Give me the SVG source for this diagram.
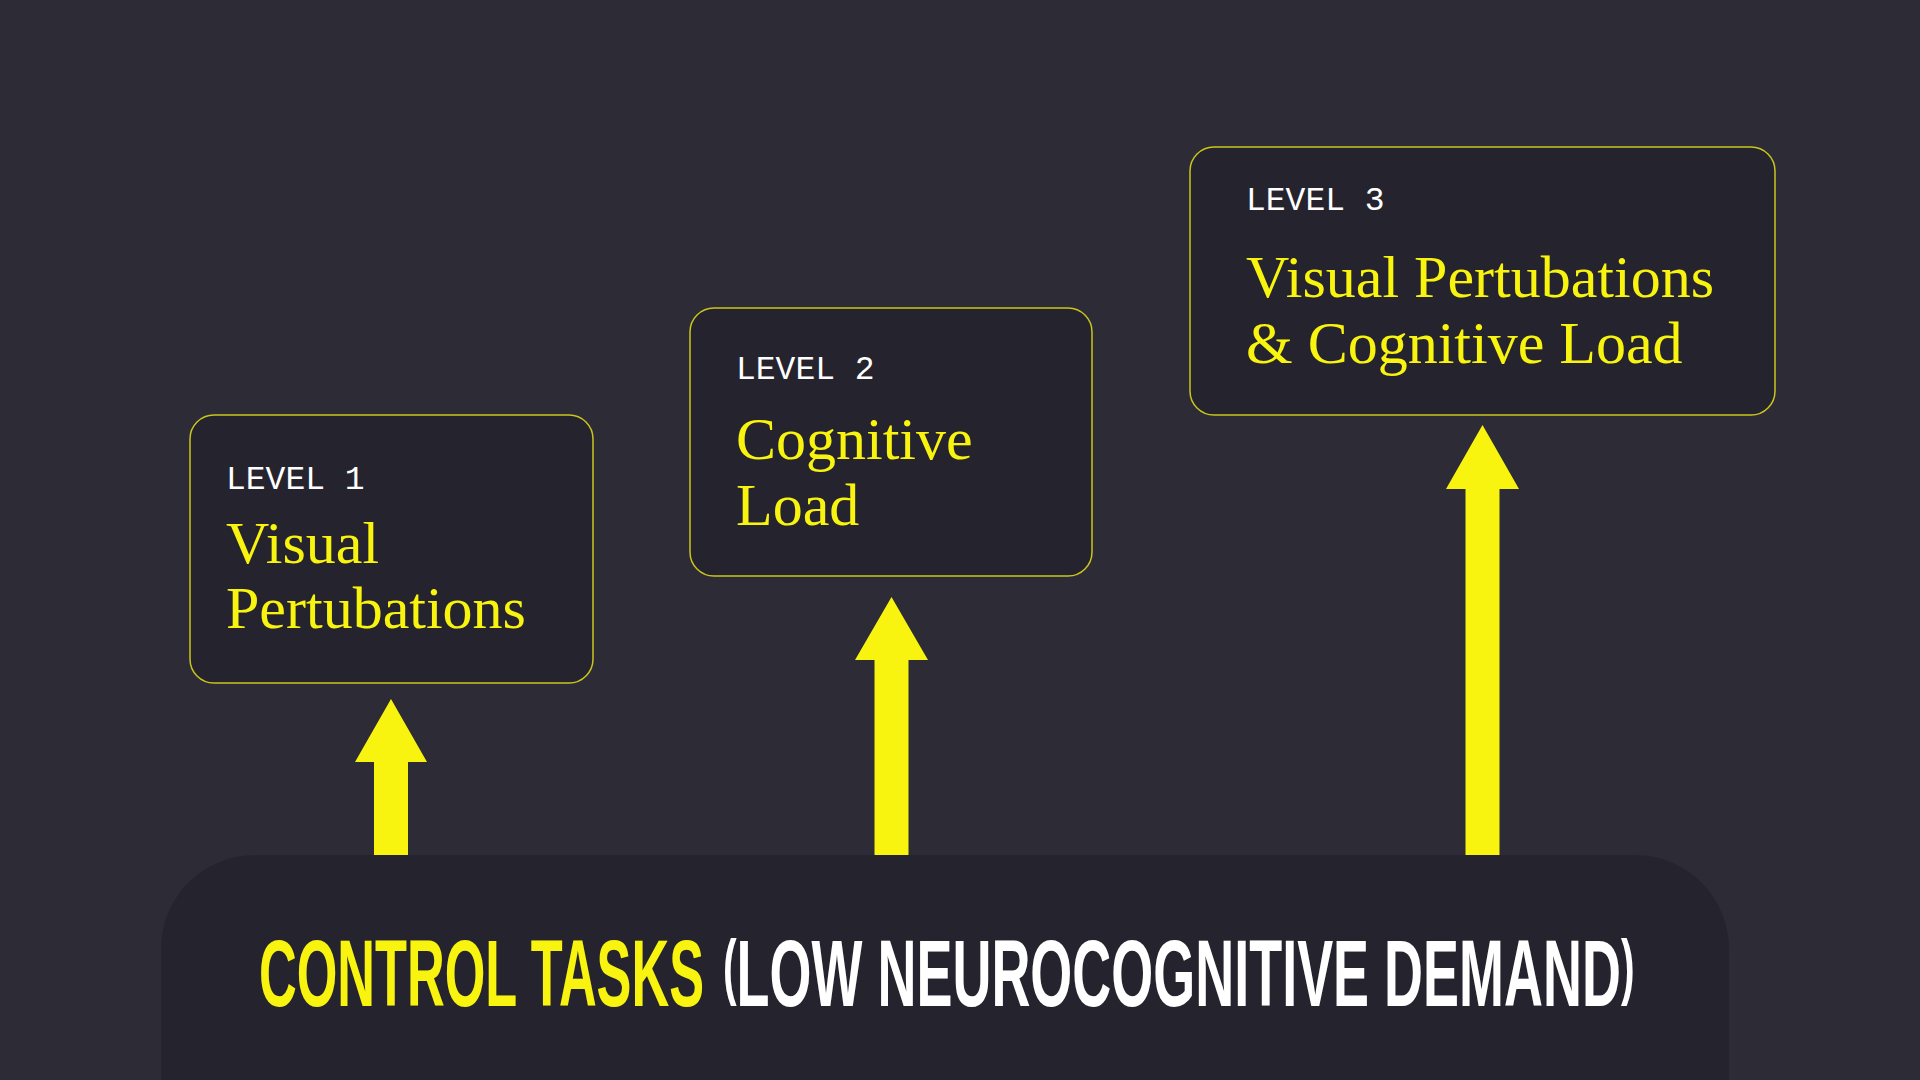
<svg xmlns="http://www.w3.org/2000/svg" width="1920" height="1080" viewBox="0 0 1920 1080">
<style>
.bg{fill:#2c2b36}
.box{fill:#25242e;stroke:#c9c51c;stroke-width:1.5}
.lvl{font-family:"Liberation Mono","DejaVu Sans Mono",monospace;font-size:33px;fill:#ffffff}
.title{font-family:"Liberation Serif","Times New Roman",serif;font-size:60px;fill:#f8f40f}
.arrow{fill:#f8f40f}
.panel{fill:#25242e}
.big{font-family:"Liberation Sans",Arial,sans-serif;font-weight:bold;font-size:95px}
.par{font-size:72px}
</style>
<rect class="bg" x="0" y="0" width="1920" height="1080"/>
<g id="connectors">
  <polygon class="arrow" points="391,699 427,762 408,762 408,855 374,855 374,762 355,762"/>
  <polygon class="arrow" points="891.5,597 928,660 908.5,660 908.5,855 874.5,855 874.5,660 855,660"/>
  <polygon class="arrow" points="1482.5,425 1519,489 1499.5,489 1499.5,855 1465.5,855 1465.5,489 1446,489"/>
</g>
<g id="level1">
  <rect class="box" x="190" y="415" width="403" height="268" rx="24"/>
  <text class="lvl" x="226" y="489">LEVEL 1</text>
  <text class="title" x="226" y="563">Visual</text>
  <text class="title" x="226" y="628">Pertubations</text>
</g>
<g id="level2">
  <rect class="box" x="690" y="308" width="402" height="268" rx="24"/>
  <text class="lvl" x="736" y="379">LEVEL 2</text>
  <text class="title" x="736" y="459">Cognitive</text>
  <text class="title" x="736" y="525">Load</text>
</g>
<g id="level3">
  <rect class="box" x="1190" y="147" width="585" height="268" rx="24"/>
  <text class="lvl" x="1246" y="210">LEVEL 3</text>
  <text class="title" x="1246" y="297">Visual Pertubations</text>
  <text class="title" x="1246" y="363">&amp; Cognitive Load</text>
</g>
<g id="control-tasks">
  <rect class="panel" x="161" y="855" width="1568" height="320" rx="94"/>
  <text class="big" transform="translate(259,1006) scale(0.55,1)" fill="#f8f40f">CONTROL TASKS</text>
  <text class="big" transform="translate(723,1006) scale(0.568,1)" fill="#ffffff"><tspan class="par" dy="-15">(</tspan><tspan dy="15">LOW NEUROCOGNITIVE DEMAND</tspan><tspan class="par" dy="-15">)</tspan></text>
</g>
</svg>
